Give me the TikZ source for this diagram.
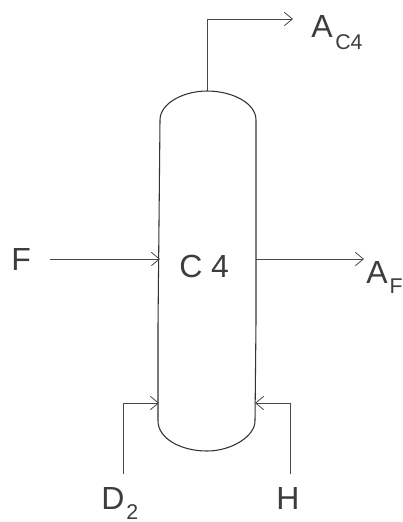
\documentclass[tikz,border=0pt]{standalone}
\usepackage{fontspec}
\setmainfont{Liberation Sans}
\usetikzlibrary{arrows.meta}
\newcommand{\lowsub}[3]{\kern#1pt\raisebox{#2pt}{\fontsize{16}{17}\selectfont #3}}
\tikzset{
  x=0.75pt,y=-0.75pt,
  lbl/.style={inner sep=0pt,anchor=base west,font=\fontsize{24}{26}\selectfont,text=black!76},
  flow/.style={draw=black!72,line width=0.75pt,-{Straight Barb[length=6pt,width=10pt,line width=0.6pt]}},
  vessel/.style={draw=black!80,line width=0.8pt}
}
\begin{document}
\begin{tikzpicture}
\useasboundingbox (0,0) rectangle (403,522);
\draw[vessel] (160,120) .. controls (160,103) and (184,91) .. (207,91)
  .. controls (232,91) and (256,103) .. (256,120)
  -- (256,322) -- (255,421)
  .. controls (255,436) and (232,451) .. (207,451)
  .. controls (180,451) and (158,438) .. (158,421)
  -- (158,326) -- (160,120) -- cycle;
\coordinate (top) at (207,91);
\coordinate (topturn) at (207,19);
\coordinate (topend) at (293,19);
\coordinate (fin) at (50,259);
\coordinate (fend) at (160,259);
\coordinate (outs) at (256,259);
\coordinate (oute) at (364,259);
\coordinate (ds) at (123,474);
\coordinate (dt) at (123,403);
\coordinate (de) at (159,403);
\coordinate (hs) at (290,474);
\coordinate (ht) at (290,403);
\coordinate (he) at (255,403);
\draw[flow] (top) -- (topturn) -- (topend);
\draw[flow] (fin) -- (fend);
\draw[flow] (outs) -- (oute);
\draw[flow] (ds) -- (dt) -- (de);
\draw[flow] (hs) -- (ht) -- (he);
\node[lbl] (ac) at (311,37) {A\lowsub{2}{-9}{C4}};
\node[lbl] (f) at (11,270) {F};
\node[lbl] (c) at (179,277) {C 4};
\node[lbl] (af) at (366,283) {A\lowsub{1.5}{-8}{F}};
\node[lbl] (d) at (101,509) {D\lowsub{1.5}{-7.5}{2}};
\node[lbl] (h) at (276,509) {H};
\end{tikzpicture}
\end{document}
